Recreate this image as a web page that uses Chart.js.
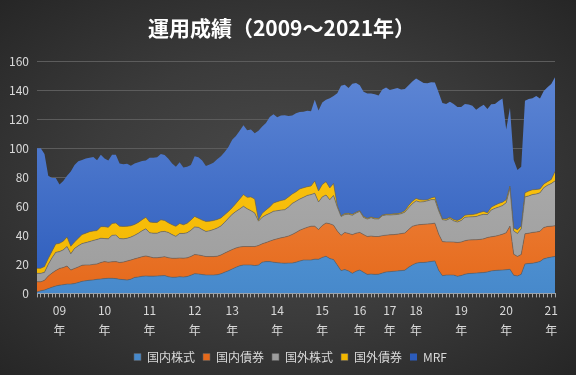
<!DOCTYPE html>
<html lang="ja">
<head>
<meta charset="UTF-8">
<title>運用成績（2009～2021年）</title>
<script src="https://cdn.jsdelivr.net/npm/chart.js@4.4.1/dist/chart.umd.min.js"></script>
<style>
    html, body {
        margin: 0;
        padding: 0;
        width: 576px;
        height: 375px;
        overflow: hidden;
    }
    body {
        background: radial-gradient(ellipse at 50% 50%, #4b4b4b 0%, #3b3b3b 50%, #262626 100%);
    }
    #chartBox {
        position: relative;
        width: 576px;
        height: 375px;
    }
</style>
</head>
<body>
<div id="chartBox">
    <canvas id="resultChart"></canvas>
</div>
<script>
// 凡例名（下から積み上げる順）
const seriesNames = ['国内株式', '国内債券', '国外株式', '国外債券', 'MRF'];

// 年ラベルとその位置（データ点の番号）
const yearLabels = ['09', '10', '11', '12', '13', '14', '15', '16', '17', '18', '19', '20', '21'];
const yearIndex = [6, 18, 30, 42, 52, 64, 76, 86, 94, 101, 113, 125, 137];

// 縦軸の目盛り
const yTicks = [0, 20, 40, 60, 80, 100, 120, 140, 160];

// 各資産の評価額
const domesticStock = [
    1.0, 1.8, 2.3, 3.3, 4.3, 5.1, 5.7, 6.0, 6.4, 6.4,
    6.8, 7.5, 8.3, 8.7, 9.1, 9.3, 9.7, 9.9, 10.2, 10.4,
    10.4, 10.2, 9.7, 9.5, 9.2, 9.8, 11.0, 11.3, 11.8, 12.0,
    11.9, 11.9, 12.0, 12.1, 12.3, 11.5, 11.1, 11.2, 11.5, 11.3,
    11.6, 12.5, 13.6, 13.4, 13.0, 12.7, 12.7, 12.7, 12.9, 13.5,
    14.6, 15.6, 16.8, 18.0, 19.0, 19.6, 19.6, 19.6, 19.2, 19.5,
    21.5, 21.9, 21.9, 21.5, 21.2, 20.9, 20.8, 20.9, 20.9, 21.5,
    22.3, 23.0, 23.0, 23.0, 23.6, 23.5, 24.8, 25.6, 24.0, 23.3,
    19.5, 15.7, 16.4, 15.5, 13.8, 15.3, 16.1, 14.5, 13.1, 13.3,
    13.1, 13.2, 14.0, 14.8, 15.0, 15.2, 15.5, 15.7, 16.0, 18.0,
    19.6, 20.8, 21.3, 21.3, 21.6, 22.0, 22.4, 16.0, 12.2, 12.6,
    12.7, 12.6, 11.8, 12.3, 13.2, 13.7, 13.8, 14.0, 14.2, 14.4,
    14.8, 15.5, 15.8, 16.0, 16.1, 16.3, 16.6, 12.5, 12.0, 13.2,
    20.3, 20.6, 20.8, 21.3, 22.0, 23.8, 24.5, 25.0, 25.4
];
const domesticBond = [
    7.0, 6.2, 6.7, 8.7, 9.7, 10.7, 11.5, 11.8, 12.5, 9.7,
    10.4, 10.7, 11.1, 10.9, 10.5, 10.7, 10.6, 11.4, 11.7, 11.1,
    11.4, 11.7, 11.6, 12.1, 13.1, 13.2, 12.8, 13.2, 13.5, 13.8,
    13.3, 12.7, 12.6, 12.8, 13.0, 13.1, 13.1, 13.0, 12.9, 13.0,
    12.9, 13.0, 13.2, 13.1, 13.0, 12.7, 12.7, 12.7, 12.7, 13.0,
    13.2, 13.4, 13.4, 13.3, 13.0, 12.7, 12.7, 12.7, 13.1, 13.5,
    12.7, 13.1, 14.1, 15.4, 16.4, 17.4, 18.0, 18.6, 19.7, 20.5,
    21.2, 21.6, 22.5, 23.3, 22.7, 20.5, 22.0, 22.9, 24.0, 23.7,
    23.5, 24.3, 25.6, 25.8, 26.7, 26.2, 25.9, 26.0, 26.1, 26.2,
    26.1, 26.0, 25.8, 25.3, 25.4, 25.3, 25.3, 25.5, 25.6, 26.0,
    26.6, 26.2, 26.1, 26.3, 26.2, 26.0, 26.0, 25.0, 23.5, 22.9,
    22.8, 22.8, 23.3, 23.1, 23.1, 23.1, 23.1, 23.0, 23.0, 23.2,
    23.7, 23.5, 23.6, 24.0, 24.7, 25.5, 29.8, 14.5, 13.5, 13.6,
    20.8, 20.9, 21.2, 21.0, 20.8, 21.6, 21.6, 21.3, 21.2
];
const foreignStock = [
    5.8, 5.8, 5.5, 8.0, 10.5, 12.5, 11.6, 12.2, 13.4, 11.2,
    13.8, 14.6, 14.9, 15.4, 16.1, 16.5, 16.9, 16.7, 15.9, 16.1,
    18.2, 18.3, 16.5, 16.0, 15.7, 15.8, 16.2, 17.0, 17.9, 18.7,
    16.6, 16.9, 16.9, 17.6, 17.4, 17.4, 16.3, 15.1, 16.9, 17.0,
    17.3, 18.0, 19.0, 19.0, 18.0, 17.3, 17.8, 18.6, 19.4, 20.0,
    21.2, 22.8, 24.3, 25.2, 26.2, 27.7, 26.0, 24.7, 23.1, 16.8,
    18.3, 19.0, 19.2, 19.7, 19.4, 19.1, 18.9, 20.0, 21.4, 21.5,
    21.5, 21.6, 22.0, 21.8, 22.7, 19.0, 19.7, 19.3, 16.6, 20.5,
    16.5, 13.0, 12.3, 13.3, 13.3, 13.9, 14.5, 11.8, 12.0, 12.7,
    12.1, 12.1, 13.7, 14.0, 13.6, 13.7, 13.6, 13.7, 14.4, 15.0,
    15.6, 16.8, 15.6, 15.6, 16.0, 16.6, 16.2, 16.0, 15.1, 14.9,
    16.1, 14.6, 14.1, 14.8, 16.2, 15.9, 15.9, 16.0, 16.7, 16.9,
    15.8, 18.4, 19.2, 19.5, 19.7, 20.7, 26.1, 16.0, 15.8, 17.7,
    25.4, 25.7, 26.1, 26.2, 26.5, 27.4, 28.4, 29.4, 30.9
];
const foreignBond = [
    3.5, 3.5, 4.0, 4.0, 4.5, 5.7, 5.7, 6.0, 6.5, 5.2,
    4.5, 5.2, 6.2, 6.5, 6.8, 6.5, 6.1, 8.0, 8.2, 7.9,
    8.2, 8.3, 8.5, 8.5, 8.2, 7.8, 7.5, 7.4, 7.6, 7.9,
    7.4, 7.4, 7.4, 8.2, 7.6, 6.6, 6.8, 6.9, 6.9, 6.0,
    6.5, 7.0, 7.2, 6.3, 6.5, 6.9, 6.6, 6.2, 5.9, 5.5,
    5.2, 4.7, 4.5, 5.5, 6.8, 8.1, 7.9, 9.5, 9.6, 0.7,
    2.7, 3.5, 4.3, 5.7, 6.2, 6.6, 6.9, 7.0, 6.5, 6.5,
    7.0, 6.6, 6.0, 5.9, 8.5, 7.6, 8.5, 9.2, 8.1, 8.3,
    1.0, 0.5, 0.7, 0.6, 0.7, 0.6, 0.5, 0.7, 0.6, 0.5,
    0.6, 0.5, 0.5, 0.5, 0.6, 0.6, 0.6, 0.6, 1.0, 1.5,
    1.7, 1.6, 1.5, 1.1, 0.7, 1.2, 1.9, 1.0, 0.7, 0.9,
    0.9, 0.9, 1.0, 1.3, 1.4, 1.5, 1.5, 1.8, 1.9, 2.0,
    1.2, 1.9, 2.2, 2.5, 2.3, 2.0, 1.5, 2.0, 2.5, 2.0,
    2.8, 3.3, 3.3, 3.1, 2.7, 2.5, 2.5, 2.8, 6.5
];
const mrf = [
    82.7, 82.7, 77.5, 57.0, 50.6, 45.5, 40.5, 41.5, 42.2, 51.5,
    53.0, 53.0, 51.5, 51.5, 51.0, 51.0, 48.5, 49.5, 47.0, 46.1,
    47.3, 47.0, 43.2, 42.9, 43.1, 41.4, 42.0, 41.5, 40.4, 39.2,
    44.2, 44.6, 44.9, 45.3, 45.0, 44.2, 42.2, 41.0, 42.1, 39.5,
    38.9, 38.0, 41.5, 42.0, 41.0, 38.2, 39.0, 39.8, 41.6, 42.5,
    43.3, 44.3, 46.8, 46.5, 47.0, 47.7, 46.3, 46.5, 45.3, 61.5,
    59.8, 60.0, 62.0, 61.2, 58.1, 58.5, 58.2, 55.8, 54.0, 54.2,
    53.0, 52.4, 52.3, 51.5, 56.0, 55.4, 56.5, 56.5, 61.8, 60.2,
    77.5, 89.5, 88.8, 86.3, 90.0, 89.0, 86.5, 86.0, 86.0, 85.1,
    85.4, 84.6, 86.5, 87.2, 85.6, 86.0, 86.5, 85.0, 83.8, 83.0,
    82.5, 82.6, 82.0, 80.7, 80.3, 79.7, 78.9, 80.5, 79.7, 79.2,
    79.5, 79.6, 78.3, 77.0, 76.6, 76.0, 75.0, 71.7, 72.7, 73.5,
    71.5, 71.1, 69.7, 70.5, 71.5, 48.5, 54.0, 47.0, 41.2, 40.8,
    63.4, 63.5, 63.1, 64.4, 62.3, 64.2, 65.0, 65.8, 65.0
];

// 系列ごとの色（上端の色, 下端の色）
const seriesColors = [
    ['#6aabe6', '#4789cb'],
    ['#f59858', '#e5691b'],
    ['#b4b4b4', '#9d9d9d'],
    ['#ffc81a', '#f2b700'],
    ['#6088d6', '#2c5cbc']
];

const fontFamily = '"Noto Sans CJK JP", "Noto Sans", sans-serif';

// 横軸のカテゴリ（年の位置だけ文字を入れる）
function createCategories(count) {
    const categories = [];
    for (let i = 0; i < count; i++) {
        const pos = yearIndex.indexOf(i);
        categories.push(pos >= 0 ? [yearLabels[pos], '年'] : '');
    }
    return categories;
}

// 塗りつぶし用のグラデーション
function makeFill(colors) {
    return (context) => {
        const chart = context.chart;
        const area = chart.chartArea;
        if (!area) {
            return colors[1];
        }
        const grad = chart.ctx.createLinearGradient(0, area.top, 0, area.bottom);
        grad.addColorStop(0, colors[0]);
        grad.addColorStop(1, colors[1]);
        return grad;
    };
}

// タイトルと凡例を少し右へずらす（元のグラフの位置に合わせる）
const shiftBoxes = {
    id: 'shiftBoxes',
    beforeDraw(chart) {
        if (chart.legend) {
            chart.legend.left += 13;
            chart.legend.right += 13;
        }
        if (chart.titleBlock) {
            chart.titleBlock.left += 4;
            chart.titleBlock.right += 4;
        }
    }
};

function createChart() {
    const ctx = document.getElementById('resultChart').getContext('2d');
    const seriesData = [domesticStock, domesticBond, foreignStock, foreignBond, mrf];

    const datasets = seriesNames.map((name, i) => ({
        label: name,
        data: seriesData[i],
        backgroundColor: makeFill(seriesColors[i]),
        borderColor: i < 4 ? 'rgba(95, 95, 95, 0.75)' : 'rgba(0, 0, 0, 0)',
        borderWidth: i < 4 ? 0.8 : 0,
        pointRadius: 0,
        pointHoverRadius: 0,
        tension: 0,
        fill: i === 0 ? 'origin' : '-1'
    }));

    new Chart(ctx, {
        type: 'line',
        data: {
            labels: createCategories(mrf.length),
            datasets: datasets
        },
        plugins: [shiftBoxes],
        options: {
            responsive: true,
            maintainAspectRatio: false,
            animation: false,
            layout: {
                padding: { left: 0, right: 21, top: 0, bottom: 2 }
            },
            scales: {
                x: {
                    type: 'category',
                    offset: false,
                    grid: {
                        display: true,
                        drawOnChartArea: false,
                        drawTicks: true,
                        tickLength: 4,
                        color: '#a6a6a6'
                    },
                    border: { display: true, color: '#a6a6a6' },
                    ticks: {
                        autoSkip: false,
                        maxRotation: 0,
                        minRotation: 0,
                        padding: 3,
                        color: '#d9d9d9',
                        font: { family: fontFamily, size: 12, lineHeight: 1.65 }
                    }
                },
                y: {
                    stacked: true,
                    min: 0,
                    max: 160,
                    afterFit: (scale) => { scale.width = 37; },
                    afterBuildTicks: (scale) => {
                        scale.ticks = yTicks.map(v => ({ value: v }));
                    },
                    grid: {
                        color: '#5c5c5c',
                        drawTicks: false
                    },
                    border: { display: false },
                    ticks: {
                        padding: 8,
                        color: '#d9d9d9',
                        font: { family: fontFamily, size: 12 }
                    }
                }
            },
            plugins: {
                title: {
                    display: true,
                    text: '運用成績（2009～2021年）',
                    color: '#ffffff',
                    font: { family: fontFamily, size: 21, weight: 'bold' },
                    padding: { top: 15, bottom: 21 }
                },
                legend: {
                    position: 'bottom',
                    labels: {
                        color: '#d9d9d9',
                        boxWidth: 7,
                        boxHeight: 7,
                        padding: 8,
                        font: { family: fontFamily, size: 12 }
                    }
                },
                tooltip: { enabled: false }
            }
        }
    });
}

createChart();
</script>
</body>
</html>
